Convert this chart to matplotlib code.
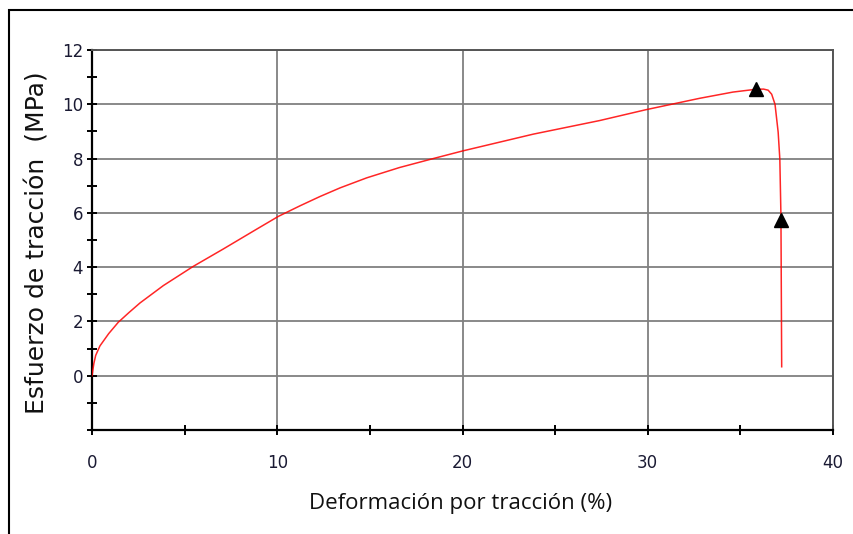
import matplotlib
matplotlib.use('Agg')
import matplotlib.pyplot as plt
from matplotlib.patches import Rectangle
from matplotlib.ticker import MultipleLocator

# curva esfuerzo-deformación
strain = [0, 0.1, 0.2, 0.43, 0.9, 1.42, 2.0, 2.59, 3.85, 5.47, 7.09, 8.89,
          10.06, 11.23, 12.3, 13.39, 14.83, 16.6, 18.42, 20.0, 23.82, 27.4,
          29.9, 32.8, 34.6, 35.8, 36.25, 36.5, 36.69, 36.87, 37.04, 37.13,
          37.19, 37.23]
stress = [0, 0.45, 0.75, 1.1, 1.55, 1.97, 2.33, 2.68, 3.32, 4.03, 4.67, 5.40,
          5.87, 6.26, 6.6, 6.92, 7.29, 7.67, 8.0, 8.28, 8.90, 9.4,
          9.8, 10.22, 10.45, 10.55, 10.56, 10.52, 10.37, 10.0, 8.97, 7.98,
          5.89, 0.33]

# marcadores (triángulos)
mark_x = [35.85, 37.2]
mark_y = [10.58, 5.72]


def main():
    fig = plt.figure(figsize=(8.54, 5.34), dpi=100)
    ax = fig.add_axes([92 / 854, 104 / 534, 741 / 854, 380 / 534])

    ax.plot(strain, stress, color='red', linewidth=1.1, alpha=0.85, zorder=3)
    ax.plot(mark_x, mark_y, linestyle='none', marker='^', color='black',
            markersize=10, zorder=4)

    ax.set_xlim(0, 40)
    ax.set_ylim(-2, 12)
    ax.xaxis.set_major_locator(MultipleLocator(10))
    ax.xaxis.set_minor_locator(MultipleLocator(5))
    ax.set_yticks([0, 2, 4, 6, 8, 10, 12])
    ax.set_yticks([-2, -1, 1, 3, 5, 7, 9, 11], minor=True)

    ax.grid(True, which='major', color='#808080', linewidth=1.3)
    ax.set_axisbelow(True)

    for side in ['left', 'bottom']:
        ax.spines[side].set_color('black')
        ax.spines[side].set_linewidth(1.6)
    for side in ['top', 'right']:
        ax.spines[side].set_color('#555555')
        ax.spines[side].set_linewidth(1.4)

    ax.tick_params(axis='both', which='both', direction='inout', length=7,
                   width=1.4, color='black', labelsize=12, labelcolor='#1a1a33')
    ax.tick_params(axis='y', which='major', pad=3)
    ax.tick_params(axis='x', which='major', pad=14)

    ax.set_xlabel('Deformación por tracción (%)', fontsize=16,
                  family='Open Sans', color='#111111')
    ax.xaxis.set_label_coords(0.498, -0.165)
    ax.set_ylabel('Esfuerzo de tracción  (MPa)', fontsize=18,
                  color='#111111')
    ax.yaxis.set_label_coords(-0.058, 0.493)

    # marco exterior
    fig.add_artist(Rectangle((9 / 854, -0.1), 1.1, 1.1 - 10.5 / 534,
                             transform=fig.transFigure, fill=False,
                             edgecolor='black', linewidth=1.5, clip_on=False))

    fig.savefig('out.png', dpi=100)


if __name__ == '__main__':
    main()
